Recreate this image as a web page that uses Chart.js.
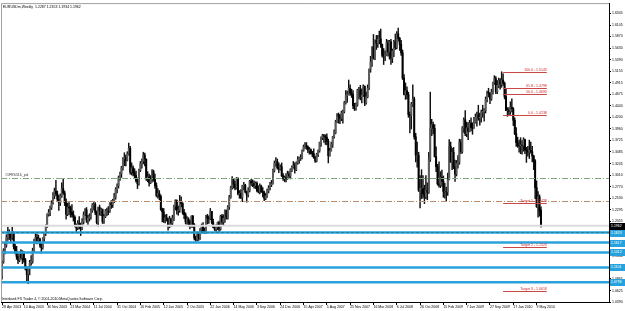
<!DOCTYPE html>
<html>
<head>
<meta charset="utf-8">
<script src="https://cdn.jsdelivr.net/npm/chart.js@4.4.1/dist/chart.umd.min.js"></script>
<style>
  html, body { margin: 0; padding: 0; background: #fff; }
  canvas { display: block; }
</style>
</head>
<body>
<canvas id="grafico" width="625" height="311"></canvas>
<script>
// EURUSD weekly candles, 28 Apr 2003 .. 30 May 2010, prices in 1/10000
const opens = [
  10930, 11220, 11450, 11560, 11720, 11800, 11790, 11720, 11810, 11530, 11440, 11330, 11250, 11400, 11310, 11390, 11260, 11090, 10960, 11080, 11200, 11230, 11450, 11650, 11720, 11660, 11690, 11570, 11510, 11700, 11810, 11940, 12200, 12240, 12340, 12430,
  12590, 12680, 12620, 12510, 12440, 12580, 12730, 12640, 12440, 12200, 12350, 12330, 12240, 12190, 12140, 11970, 11920, 12010, 11940, 11900, 12050, 12190, 12290, 12080, 12120, 12150, 12280, 12390, 12400, 12240, 12030, 12340, 12270, 12300, 12050, 12150, 12270, 12270, 12260, 12430, 12400, 12480, 12550, 12720, 12790, 12960, 13040, 13160, 13340, 13370, 13310, 13440,
  13560, 13070, 13160, 13050, 13000, 12890, 12830, 13110, 13240, 13300, 13420, 13340, 12950, 12970, 12850, 12920, 13080, 12920, 12790, 12590, 12630, 12570, 12300, 12250, 12090, 12130, 12090, 11950, 12100, 12020, 12120, 12370, 12480, 12280, 12290, 12470, 12420, 12240, 12190, 12050, 12100, 12040, 11960, 12160, 11990, 11710, 11680, 11790, 11710, 11880, 11970, 11850,
  11840, 12160, 12120, 12110, 12260, 12030, 11930, 11890, 11940, 12030, 11890, 12160, 12040, 12120, 12270, 12120, 12350, 12550, 12750, 12910, 12820, 12740, 12930, 12620, 12630, 12550, 12790, 12800, 12660, 12600, 12690, 12880, 12840, 12840, 12790, 12840, 12690, 12670, 12780, 12670, 12650, 12530, 12580, 12680, 12740, 12810, 12830, 13100, 13250, 13290, 13160, 13130,
  13180, 12990, 12940, 12960, 12940, 13030, 12990, 13130, 13170, 13200, 13120, 13260, 13330, 13360, 13370, 13520, 13590, 13620, 13590, 13520, 13530, 13460, 13450, 13370, 13300, 13440, 13510, 13680, 13780, 13820, 13810, 13790, 13710, 13410, 13510, 13640, 13800, 13880, 14110, 14260, 14230, 14180, 14290, 14320, 14500, 14650, 14670, 14800, 14700, 14670, 14440, 14380,
  14460, 14760, 14760, 14620, 14660, 14840, 14500, 14620, 14800, 15190, 15340, 15640, 15420, 15790, 15730, 15810, 15820, 15700, 15480, 15470, 15480, 15740, 15550, 15760, 15420, 15570, 15760, 15640, 15920, 15830, 15710, 15530, 15010, 14670, 14750, 14670, 14260, 14240, 14470, 14580, 13800, 13420, 13420, 12700, 12730, 12730, 12620, 12570, 12700, 12650, 13330, 13970, 14050,
  13970, 13390, 13180, 12830, 12800, 12960, 12880, 12670, 12670, 12660, 12920, 13600, 13280, 13480, 13180, 13030, 13250, 13280, 13680, 13490, 13980, 14150, 13860, 13980, 13910, 14080, 13990, 13970, 14100, 14200, 14250, 14190, 14200, 14310, 14320, 14340, 14570, 14720, 14690, 14580, 14720, 14910, 15000, 14730, 14860, 14960, 14880, 14970, 14900, 14630, 14340, 14340,
  14320, 14410, 14380, 14140, 13860, 13680, 13620, 13610, 13630, 13620, 13740, 13530, 13510, 13480, 13520, 13490, 13400, 13300, 12750, 12360, 12560, 12287
];
const highs = [
  11240, 11490, 11620, 11780, 11930, 11880, 11820, 11930, 11840, 11580, 11540, 11390, 11430, 11470, 11450, 11430, 11290, 11120, 11120, 11250, 11350, 11500, 11690, 11810, 11790, 11770, 11710, 11620, 11720, 11830, 11980, 12210, 12300, 12370, 12480, 12650,
  12740, 12900, 12680, 12590, 12620, 12850, 12930, 12680, 12520, 12430, 12440, 12370, 12400, 12270, 12170, 12000, 12070, 12150, 12020, 12110, 12250, 12320, 12340, 12180, 12210, 12310, 12420, 12440, 12440, 12270, 12350, 12390, 12330, 12310, 12200, 12300, 12330, 12360, 12440, 12480, 12510, 12630, 12750, 12830, 12990, 13070, 13190, 13370, 13470, 13420, 13490, 13670,
  13600, 13260, 13200, 13140, 13090, 12950, 13130, 13290, 13340, 13480, 13460, 13340, 13080, 13030, 13000, 13120, 13110, 13030, 12850, 12730, 12690, 12600, 12330, 12320, 12190, 12200, 12120, 12160, 12120, 12180, 12390, 12500, 12500, 12370, 12590, 12560, 12440, 12300, 12230, 12150, 12130, 12080, 12170, 12180, 12010, 11750, 11840, 11830, 11910, 12000, 12030, 11920,
  12180, 12200, 12170, 12320, 12260, 12100, 11970, 11980, 12040, 12060, 12180, 12200, 12190, 12290, 12290, 12380, 12590, 12780, 12980, 12930, 12880, 12960, 12950, 12690, 12710, 12800, 12860, 12820, 12680, 12750, 12900, 12920, 12910, 12890, 12870, 12870, 12790, 12830, 12800, 12750, 12680, 12630, 12720, 12790, 12860, 12900, 13130, 13300, 13370, 13340, 13260, 13220,
  13260, 13040, 12990, 13040, 13090, 13080, 13140, 13200, 13290, 13260, 13280, 13390, 13380, 13430, 13530, 13630, 13680, 13680, 13610, 13580, 13550, 13500, 13550, 13400, 13460, 13530, 13690, 13800, 13850, 13850, 13840, 13860, 13750, 13560, 13690, 13810, 13940, 14140, 14280, 14290, 14260, 14330, 14350, 14530, 14750, 14740, 14970, 14870, 14780, 14750, 14490, 14500,
  14780, 14820, 14860, 14790, 14870, 14850, 14720, 14870, 15200, 15460, 15660, 15910, 15800, 15890, 15890, 15980, 16020, 15710, 15620, 15570, 15810, 15790, 15790, 15810, 15610, 15790, 15920, 15970, 16040, 15850, 15790, 15590, 15080, 14910, 14830, 14720, 14310, 14510, 14870, 14620, 13870, 13690, 13480, 13000, 13120, 13000, 12800, 13000, 12850, 13480, 14720, 14160, 14100,
  14050, 13590, 13230, 13280, 13080, 13110, 12990, 12840, 12760, 13050, 13740, 13690, 13560, 13580, 13320, 13310, 13410, 13750, 13740, 14010, 14190, 14340, 14100, 14090, 14140, 14190, 14090, 14200, 14270, 14310, 14450, 14290, 14350, 14450, 14380, 14620, 14740, 14800, 14710, 14780, 14930, 15060, 15040, 14960, 15010, 15000, 15140, 15100, 14930, 14780, 14400, 14400,
  14520, 14580, 14400, 14190, 13990, 13790, 13730, 13780, 13720, 13780, 13750, 13580, 13600, 13730, 13690, 13600, 13420, 13330, 12890, 12670, 12600, 12353
];
const lows = [
  10860, 11190, 11380, 11520, 11660, 11680, 11610, 11680, 11480, 11380, 11270, 11180, 11220, 11270, 11180, 11210, 11050, 10790, 10770, 10950, 11150, 11190, 11420, 11600, 11590, 11610, 11520, 11400, 11480, 11640, 11760, 11930, 12160, 12170, 12300, 12410,
  12520, 12580, 12470, 12280, 12380, 12550, 12610, 12380, 12100, 12170, 12190, 12140, 12140, 12060, 11940, 11840, 11880, 11900, 11760, 11880, 12000, 12170, 12030, 11990, 12060, 12100, 12240, 12290, 12190, 12000, 11950, 12180, 12170, 12010, 12010, 12130, 12170, 12190, 12240, 12320, 12340, 12440, 12510, 12640, 12740, 12900, 12960, 13110, 13200, 13200, 13300, 13420,
  13030, 13010, 12990, 12950, 12860, 12730, 12800, 13080, 13150, 13240, 13200, 12900, 12870, 12780, 12830, 12860, 12880, 12740, 12560, 12530, 12500, 12280, 12040, 12030, 12020, 12060, 11870, 11920, 11950, 11970, 12070, 12290, 12200, 12180, 12240, 12350, 12200, 12110, 12000, 11990, 11950, 11900, 11930, 11930, 11670, 11640, 11650, 11660, 11680, 11810, 11830, 11800,
  11800, 12000, 12010, 12090, 12000, 11920, 11860, 11820, 11880, 11830, 11870, 11990, 11980, 12030, 12100, 12100, 12300, 12530, 12720, 12740, 12700, 12720, 12600, 12530, 12520, 12460, 12700, 12640, 12450, 12560, 12660, 12790, 12770, 12740, 12730, 12660, 12640, 12620, 12650, 12560, 12480, 12500, 12550, 12640, 12700, 12770, 12820, 13070, 13190, 13130, 13060, 13110,
  12980, 12900, 12870, 12870, 12920, 12950, 12930, 13080, 13150, 13050, 13100, 13230, 13250, 13310, 13340, 13500, 13560, 13540, 13470, 13440, 13440, 13390, 13350, 13270, 13280, 13390, 13480, 13600, 13740, 13680, 13640, 13630, 13260, 13400, 13500, 13580, 13770, 13860, 14090, 14080, 14070, 14130, 14080, 14290, 14470, 14510, 14660, 14650, 14610, 14380, 14340, 14350,
  14430, 14580, 14560, 14500, 14630, 14440, 14470, 14600, 14770, 15130, 15250, 15400, 15390, 15600, 15640, 15720, 15640, 15440, 15290, 15370, 15470, 15460, 15400, 15290, 15330, 15450, 15600, 15610, 15770, 15580, 15480, 14980, 14660, 14570, 14580, 14200, 13880, 13960, 14420, 13750, 13280, 13170, 12670, 12330, 12520, 12530, 12420, 12520, 12500, 12630, 13290, 13820, 13860,
  13380, 13080, 12800, 12760, 12750, 12780, 12550, 12530, 12460, 12590, 12910, 13270, 13120, 13140, 12880, 12990, 13150, 13230, 13450, 13460, 13890, 13820, 13800, 13740, 13900, 13920, 13850, 13980, 14080, 14020, 14140, 14040, 14100, 14200, 14120, 14290, 14520, 14620, 14480, 14550, 14680, 14880, 14690, 14690, 14810, 14780, 14820, 14860, 14580, 14340, 14220, 14250,
  14260, 14310, 14030, 13840, 13600, 13580, 13480, 13450, 13440, 13500, 13450, 13270, 13400, 13350, 13460, 13280, 13120, 12520, 12340, 12140, 12160, 11934
];
const closes = [
  11220, 11450, 11560, 11720, 11800, 11790, 11720, 11810, 11530, 11440, 11330, 11250, 11400, 11310, 11390, 11260, 11090, 10960, 11080, 11200, 11230, 11450, 11650, 11720, 11660, 11690, 11570, 11510, 11700, 11810, 11940, 12200, 12240, 12340, 12430, 12590,
  12680, 12620, 12510, 12440, 12580, 12730, 12640, 12440, 12200, 12350, 12330, 12240, 12190, 12140, 11970, 11920, 12010, 11940, 11900, 12050, 12190, 12290, 12080, 12120, 12150, 12280, 12390, 12400, 12240, 12030, 12340, 12270, 12300, 12050, 12150, 12270, 12270, 12260, 12430, 12400, 12480, 12550, 12720, 12790, 12960, 13040, 13160, 13340, 13370, 13310, 13440, 13560,
  13070, 13160, 13050, 13000, 12890, 12830, 13110, 13240, 13300, 13420, 13340, 12950, 12970, 12850, 12920, 13080, 12920, 12790, 12590, 12630, 12570, 12300, 12250, 12090, 12130, 12090, 11950, 12100, 12020, 12120, 12370, 12480, 12280, 12290, 12470, 12420, 12240, 12190, 12050, 12100, 12040, 11960, 12160, 11990, 11710, 11680, 11790, 11710, 11880, 11970, 11850, 11840,
  12160, 12120, 12110, 12260, 12030, 11930, 11890, 11940, 12030, 11890, 12160, 12040, 12120, 12270, 12120, 12350, 12550, 12750, 12910, 12820, 12740, 12930, 12620, 12630, 12550, 12790, 12800, 12660, 12600, 12690, 12880, 12840, 12840, 12790, 12840, 12690, 12670, 12780, 12670, 12650, 12530, 12580, 12680, 12740, 12810, 12830, 13100, 13250, 13290, 13160, 13130, 13180,
  12990, 12940, 12960, 12940, 13030, 12990, 13130, 13170, 13200, 13120, 13260, 13330, 13360, 13370, 13520, 13590, 13620, 13590, 13520, 13530, 13460, 13450, 13370, 13300, 13440, 13510, 13680, 13780, 13820, 13810, 13790, 13710, 13410, 13510, 13640, 13800, 13880, 14110, 14260, 14230, 14180, 14290, 14320, 14500, 14650, 14670, 14800, 14700, 14670, 14440, 14380, 14460,
  14760, 14760, 14620, 14660, 14840, 14500, 14620, 14800, 15190, 15340, 15640, 15420, 15790, 15730, 15810, 15820, 15700, 15480, 15470, 15480, 15740, 15550, 15760, 15420, 15570, 15760, 15640, 15920, 15830, 15710, 15530, 15010, 14670, 14750, 14670, 14260, 14240, 14470, 14580, 13800, 13420, 13420, 12700, 12730, 12730, 12620, 12570, 12700, 12650, 13330, 13970, 14050, 13970,
  13390, 13180, 12830, 12800, 12960, 12880, 12670, 12670, 12660, 12920, 13600, 13280, 13480, 13180, 13030, 13250, 13280, 13680, 13490, 13980, 14150, 13860, 13980, 13910, 14080, 13990, 13970, 14100, 14200, 14250, 14190, 14200, 14310, 14320, 14340, 14570, 14720, 14690, 14580, 14720, 14910, 15000, 14730, 14860, 14960, 14880, 14970, 14900, 14630, 14340, 14340, 14320,
  14410, 14380, 14140, 13860, 13680, 13620, 13610, 13630, 13620, 13740, 13530, 13510, 13480, 13520, 13490, 13400, 13300, 12750, 12360, 12560, 12270, 11962
];

// bottom axis: bar index of each date label
const dateTickIdx = [0, 15, 31, 47, 63, 79, 95, 111, 127, 143, 159, 175, 191, 207, 223, 239, 255, 271, 287, 303, 319, 335, 351, 367];
const dateLabels = ["28 Apr 2003", "10 Aug 2003", "30 Nov 2003", "21 Mar 2004", "11 Jul 2004", "31 Oct 2004", "20 Feb 2005", "12 Jun 2005",
  "2 Oct 2005", "22 Jan 2006", "14 May 2006", "3 Sep 2006", "24 Dec 2006", "15 Apr 2007", "5 Aug 2007", "25 Nov 2007", "16 Mar 2008",
  "6 Jul 2008", "26 Oct 2008", "15 Feb 2009", "7 Jun 2009", "27 Sep 2009", "17 Jan 2010", "9 May 2010"];

// right axis price labels
const priceTicks = [1.6345, 1.6105, 1.5870, 1.5630, 1.5390, 1.5155, 1.4915, 1.4675, 1.4440, 1.4200, 1.3960, 1.3725, 1.3485,
  1.3245, 1.3010, 1.2770, 1.2530, 1.2295, 1.2055, 1.1815, 1.1580, 1.1340, 1.1100, 1.0865, 1.0625, 1.0390];

// drawn objects
const supportLevels = [1.1823, 1.1617, 1.1412, 1.1104, 1.0796];
const channelLevels = [1.2950, 1.2472];
const channelName = "#1FRS516_pal";
const currentPrice = 1.1962;
const fibNames = ["100.0", "61.8", "50.0", "0.0"];
const fibLevels = [1.5143, 1.4798, 1.4690, 1.4238];
const targetNames = ["Target 1", "Target 2", "Target 3"];
const targetLevels = [1.2428, 1.1523, 1.0618];
const objectSpan = [344, 374];
const titleText = "EURUSDm,Weekly  1.2287 1.2353 1.1934 1.1962";
const copyrightText = "Interbank FX Trader 4, \u00A9 2001-2010 MetaQuotes Software Corp.";

const FAMILY = '"Liberation Sans", Arial, sans-serif';
const FONT = '3.5px ' + FAMILY;

const objetos = {
  id: 'objetos',
  afterDatasetsDraw(chart) {
    const { ctx, chartArea: a, scales: { x, y } } = chart;
    ctx.save();
    ctx.beginPath();
    ctx.rect(a.left, a.top, a.right - a.left, a.bottom - a.top);
    ctx.clip();

    // dash-dot channel lines
    const channelColors = ['#7fa87f', '#b98c6c'];
    channelLevels.forEach((v, k) => {
      const py = Math.round(y.getPixelForValue(v)) + 0.5;
      ctx.strokeStyle = channelColors[k];
      ctx.lineWidth = 1;
      ctx.setLineDash([6, 2, 1, 2]);
      ctx.beginPath(); ctx.moveTo(a.left, py); ctx.lineTo(a.right, py); ctx.stroke();
    });
    ctx.setLineDash([]);
    ctx.font = FONT;
    ctx.fillStyle = '#333';
    ctx.textBaseline = 'bottom';
    ctx.textAlign = 'left';
    ctx.fillText(channelName, a.left + 4, y.getPixelForValue(channelLevels[0]) - 1);

    // current price line
    const pc = y.getPixelForValue(currentPrice);
    ctx.strokeStyle = '#dcdcdc';
    ctx.lineWidth = 2;
    ctx.beginPath(); ctx.moveTo(a.left, pc); ctx.lineTo(a.right, pc); ctx.stroke();

    // support lines
    supportLevels.forEach((v, k) => {
      const py = y.getPixelForValue(v);
      ctx.strokeStyle = '#28a2dc';
      ctx.lineWidth = 2.5;
      ctx.beginPath(); ctx.moveTo(a.left, py); ctx.lineTo(a.right, py); ctx.stroke();
      if (k === 0) {
        ctx.strokeStyle = '#2d7d92';
        ctx.lineWidth = 1;
        ctx.setLineDash([3, 2]);
        ctx.beginPath(); ctx.moveTo(a.left, py); ctx.lineTo(a.right, py); ctx.stroke();
        ctx.setLineDash([]);
      }
    });

    // fibo + targets
    const x0 = x.getPixelForValue(objectSpan[0]);
    const x1 = x.getPixelForValue(objectSpan[1]);
    const drawLevel = (txt, v) => {
      const py = Math.round(y.getPixelForValue(v)) + 0.5;
      ctx.strokeStyle = '#c84848';
      ctx.lineWidth = 1;
      ctx.beginPath(); ctx.moveTo(x0, py); ctx.lineTo(x1, py); ctx.stroke();
      ctx.fillStyle = '#cc2a2a';
      ctx.textAlign = 'right';
      ctx.textBaseline = 'bottom';
      ctx.fillText(txt, x1, py - 0.5);
    };
    fibLevels.forEach((v, k) => drawLevel(fibNames[k] + ' - ' + v.toFixed(4), v));
    targetLevels.forEach((v, k) => drawLevel(targetNames[k] + ' - ' + v.toFixed(4), v));

    // title + copyright
    ctx.fillStyle = '#000';
    ctx.textAlign = 'left';
    ctx.textBaseline = 'top';
    ctx.fillText(titleText, a.left + 2, a.top + 2);
    ctx.textBaseline = 'bottom';
    ctx.fillText(copyrightText, a.left + 1, a.bottom - 1);
    ctx.restore();
  },
  afterDraw(chart) {
    const { ctx, chartArea: a, scales: { y } } = chart;
    ctx.save();
    // frame top / left
    ctx.strokeStyle = '#a0a0a0';
    ctx.lineWidth = 1;
    ctx.beginPath();
    ctx.moveTo(a.left + 0.5, a.bottom); ctx.lineTo(a.left + 0.5, a.top + 0.5); ctx.lineTo(a.right, a.top + 0.5);
    ctx.stroke();
    // price boxes on the axis
    ctx.font = FONT;
    ctx.textAlign = 'left';
    ctx.textBaseline = 'middle';
    const box = (v, bg) => {
      const py = Math.round(y.getPixelForValue(v));
      ctx.fillStyle = bg;
      ctx.fillRect(a.right + 1, py - 3, 625 - a.right - 1, 7);
      ctx.fillStyle = '#fff';
      ctx.fillText(v.toFixed(4), a.right + 2, py + 0.5);
    };
    supportLevels.forEach(v => box(v, '#28a2dc'));
    box(currentPrice, '#000');
    ctx.restore();
  }
};

const ctx = document.getElementById('grafico').getContext('2d');
const idx = closes.map((_, i) => i);

window.grafico = new Chart(ctx, {
  type: 'bar',
  data: {
    datasets: [{
      label: 'sombras',
      data: idx.map(i => ({ x: i, y: [lows[i] / 10000, highs[i] / 10000] })),
      backgroundColor: '#111',
      barThickness: 0.8,
      grouped: false,
      order: 2
    }, {
      label: 'corpos',
      data: idx.map(i => ({ x: i, y: [opens[i] / 10000, closes[i] / 10000] })),
      backgroundColor: idx.map(i => closes[i] >= opens[i] ? '#5c5c5c' : '#000'),
      barThickness: 1.3,
      grouped: false,
      order: 1
    }]
  },
  options: {
    responsive: false,
    animation: false,
    devicePixelRatio: 1,
    layout: { padding: { left: 1, top: 2, right: 0, bottom: 0 } },
    plugins: { legend: { display: false }, tooltip: { enabled: false } },
    scales: {
      x: {
        type: 'linear',
        min: -0.7,
        max: 416.7,
        offset: false,
        afterBuildTicks: s => { s.ticks = dateTickIdx.map(v => ({ value: v })); },
        afterFit: s => { s.height = 9; },
        ticks: {
          autoSkip: false, maxRotation: 0, align: 'start', padding: 0,
          font: { size: 3.5, family: FAMILY }, color: '#000',
          callback: (v, i) => dateLabels[i]
        },
        grid: { display: true, drawOnChartArea: false, tickLength: 3, color: '#000', offset: false },
        border: { display: true, color: '#000' }
      },
      y: {
        type: 'linear',
        position: 'right',
        min: 1.0390,
        max: 1.6557,
        afterBuildTicks: s => { s.ticks = priceTicks.map(v => ({ value: v })); },
        afterFit: s => { s.width = 16; },
        ticks: {
          padding: 1,
          font: { size: 3.5, family: FAMILY }, color: '#000',
          callback: v => v.toFixed(4)
        },
        grid: { display: true, drawOnChartArea: false, tickLength: 2, color: '#000' },
        border: { display: true, color: '#000' }
      }
    }
  },
  plugins: [objetos]
});
</script>
</body>
</html>
